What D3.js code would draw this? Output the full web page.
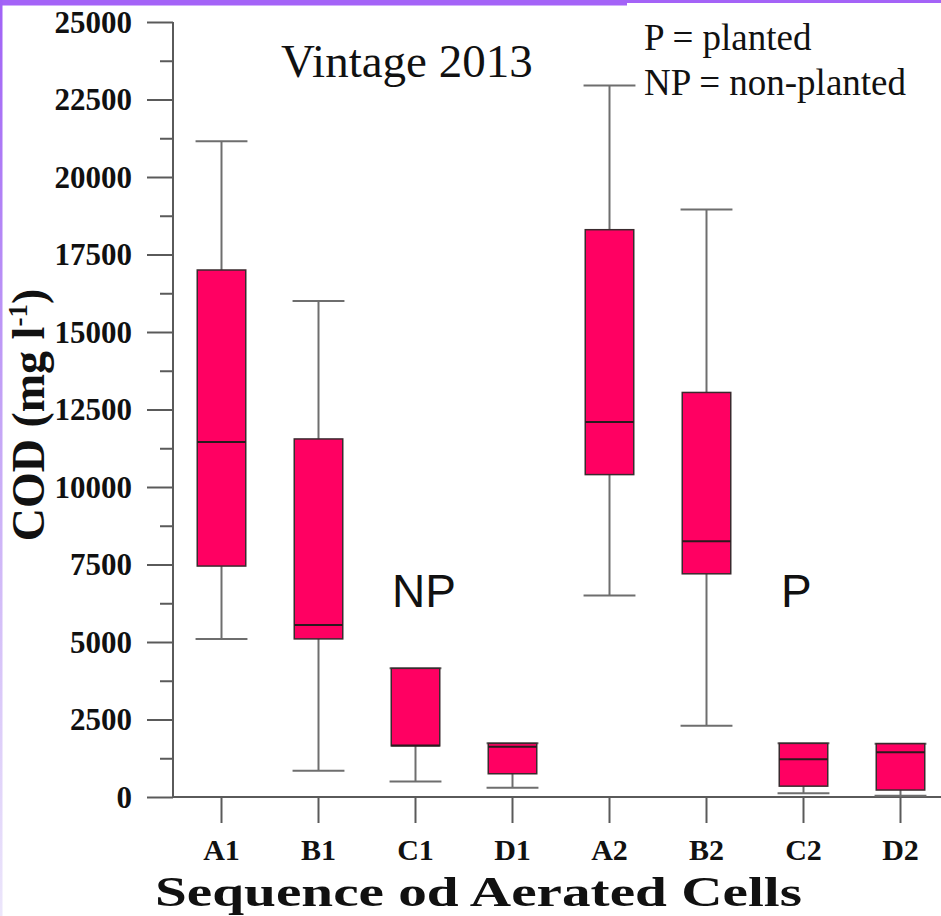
<!DOCTYPE html>
<html>
<head>
<meta charset="utf-8">
<script src="https://cdn.jsdelivr.net/npm/d3@7"></script>
<style>
  html, body { margin: 0; padding: 0; background: #fff; }
  svg { display: block; }
</style>
</head>
<body>
<svg id="chart" width="941" height="916"></svg>
<script>
// Aerated cell COD distributions, vintage 2013
const cells   = ["A1", "B1", "C1", "D1", "A2", "B2", "C2", "D2"];
const minVal  = [5100, 850, 500, 300, 6500, 2300, 120, 40];
const q1Val   = [7450, 5100, 1650, 750, 10400, 7200, 350, 225];
const medVal  = [11450, 5550, 1660, 1620, 12100, 8250, 1220, 1440];
const q3Val   = [17000, 11550, 4150, 1730, 18300, 13050, 1730, 1720];
const maxVal  = [21150, 16000, 4150, 1730, 22950, 18950, 1730, 1720];
const majorTicks = [0, 2500, 5000, 7500, 10000, 12500, 15000, 17500, 20000, 22500, 25000];
const minorTicks = [1250, 3750, 6250, 8750, 11250, 13750, 16250, 18750, 21250, 23750];

const boxes = cells.map((c, i) => ({
  cell: c, min: minVal[i], q1: q1Val[i], med: medVal[i], q3: q3Val[i], max: maxVal[i]
}));

const svg = d3.select("#chart");
const W = 941, H = 916;

// slide frame
const defs = svg.append("defs");
const grad = defs.append("linearGradient").attr("id", "edge")
  .attr("x1", 0).attr("y1", 0).attr("x2", 0).attr("y2", 1);
grad.append("stop").attr("offset", "0%").attr("stop-color", "#a061f6");
grad.append("stop").attr("offset", "45%").attr("stop-color", "#c4a4f6");
grad.append("stop").attr("offset", "100%").attr("stop-color", "#ece6fb");

svg.append("rect").attr("width", W).attr("height", H).attr("fill", "#fff");
svg.append("rect").attr("x", 0).attr("y", 0).attr("width", 627).attr("height", 5.5).attr("fill", "#a463f7");
svg.append("rect").attr("x", 627).attr("y", 0).attr("width", W - 627).attr("height", 3).attr("fill", "#a463f7");
svg.append("rect").attr("x", 0).attr("y", 0).attr("width", 2.5).attr("height", H).attr("fill", "url(#edge)");

// scales
const x = d3.scaleBand().domain(cells).range([173, 949]).paddingInner(0).paddingOuter(0);
const y = d3.scaleLinear().domain([0, 25000]).range([797, 22]);
const axisColor = "#5a5a5a";
const serif = "'Liberation Serif', 'Times New Roman', serif";
const sans = "'Liberation Sans', Arial, sans-serif";

// y axis
const yAxis = svg.append("g").attr("transform", "translate(173,0)")
  .call(d3.axisLeft(y).tickValues(majorTicks).tickSize(26).tickPadding(15).tickFormat(d3.format("d")));
yAxis.select(".domain").remove();
yAxis.selectAll(".tick line").attr("stroke", axisColor).attr("stroke-width", 2);
yAxis.selectAll(".tick text")
  .attr("font-family", serif).attr("font-weight", "bold").attr("font-size", 31)
  .attr("fill", "#111").attr("dy", "0.33em");

const yMinor = svg.append("g").attr("transform", "translate(173,0)")
  .call(d3.axisLeft(y).tickValues(minorTicks).tickSize(13).tickFormat(""));
yMinor.select(".domain").remove();
yMinor.selectAll(".tick line").attr("stroke", axisColor).attr("stroke-width", 2);

svg.append("line").attr("x1", 173).attr("x2", 173).attr("y1", y(25000)).attr("y2", y(0))
  .attr("stroke", axisColor).attr("stroke-width", 2);

// x axis
const xAxis = svg.append("g").attr("transform", "translate(0,797)")
  .call(d3.axisBottom(x).tickSize(26).tickPadding(16));
xAxis.select(".domain").remove();
xAxis.selectAll(".tick line").attr("stroke", axisColor).attr("stroke-width", 2);
xAxis.selectAll(".tick text")
  .attr("font-family", serif).attr("font-weight", "bold").attr("font-size", 30)
  .attr("fill", "#111").attr("dy", "0.71em");
svg.append("line").attr("x1", 173).attr("x2", W).attr("y1", y(0)).attr("y2", y(0))
  .attr("stroke", axisColor).attr("stroke-width", 2);

// box plots
const bw = x.bandwidth() * 0.5;
const cw = x.bandwidth() * 0.535;
const whiskerColor = "#6e6e6e";
const g = svg.append("g");
const item = g.selectAll("g.box").data(boxes).join("g").attr("class", "box");

item.append("line")
  .attr("x1", d => x(d.cell) + x.bandwidth() / 2).attr("x2", d => x(d.cell) + x.bandwidth() / 2)
  .attr("y1", d => y(d.max)).attr("y2", d => y(d.q3))
  .attr("stroke", whiskerColor).attr("stroke-width", 2);
item.append("line")
  .attr("x1", d => x(d.cell) + x.bandwidth() / 2).attr("x2", d => x(d.cell) + x.bandwidth() / 2)
  .attr("y1", d => y(d.q1)).attr("y2", d => y(d.min))
  .attr("stroke", whiskerColor).attr("stroke-width", 2);
item.append("line")
  .attr("x1", d => x(d.cell) + (x.bandwidth() - cw) / 2).attr("x2", d => x(d.cell) + (x.bandwidth() + cw) / 2)
  .attr("y1", d => y(d.max)).attr("y2", d => y(d.max))
  .attr("stroke", whiskerColor).attr("stroke-width", 2);
item.append("line")
  .attr("x1", d => x(d.cell) + (x.bandwidth() - cw) / 2).attr("x2", d => x(d.cell) + (x.bandwidth() + cw) / 2)
  .attr("y1", d => y(d.min)).attr("y2", d => y(d.min))
  .attr("stroke", whiskerColor).attr("stroke-width", 2);

item.append("rect")
  .attr("x", d => x(d.cell) + (x.bandwidth() - bw) / 2)
  .attr("width", bw)
  .attr("y", d => y(d.q3))
  .attr("height", d => y(d.q1) - y(d.q3))
  .attr("fill", "#ff0062").attr("stroke", "#3a2a2e").attr("stroke-width", 1.5);
item.append("line")
  .attr("x1", d => x(d.cell) + (x.bandwidth() - bw) / 2).attr("x2", d => x(d.cell) + (x.bandwidth() + bw) / 2)
  .attr("y1", d => y(d.med)).attr("y2", d => y(d.med))
  .attr("stroke", "#2a1a1e").attr("stroke-width", 2);

// titles and annotations
svg.append("text").attr("x", 155).attr("y", 906)
  .attr("textLength", 647).attr("lengthAdjust", "spacingAndGlyphs")
  .attr("font-family", serif).attr("font-weight", "bold").attr("font-size", 42).attr("fill", "#111")
  .text("Sequence od Aerated Cells");

const yt = svg.append("text").attr("transform", "translate(44,415) rotate(-90)").attr("text-anchor", "middle")
  .attr("font-family", serif).attr("font-weight", "bold").attr("font-size", 46).attr("fill", "#111");
yt.append("tspan").text("COD (mg l");
yt.append("tspan").attr("font-size", 27).attr("dy", -17).text("-1");
yt.append("tspan").attr("dy", 17).text(")");

svg.append("text").attr("x", 281).attr("y", 77)
  .attr("font-family", serif).attr("font-size", 47).attr("fill", "#111").text("Vintage 2013");
svg.append("text").attr("x", 644).attr("y", 50)
  .attr("font-family", serif).attr("font-size", 37).attr("fill", "#111").text("P = planted");
svg.append("text").attr("x", 644).attr("y", 95)
  .attr("font-family", serif).attr("font-size", 37).attr("fill", "#111").text("NP = non-planted");

svg.append("text").attr("x", 392).attr("y", 607)
  .attr("font-family", sans).attr("font-size", 46).attr("fill", "#111").text("NP");
svg.append("text").attr("x", 781).attr("y", 607)
  .attr("font-family", sans).attr("font-size", 46).attr("fill", "#111").text("P");
</script>
</body>
</html>
